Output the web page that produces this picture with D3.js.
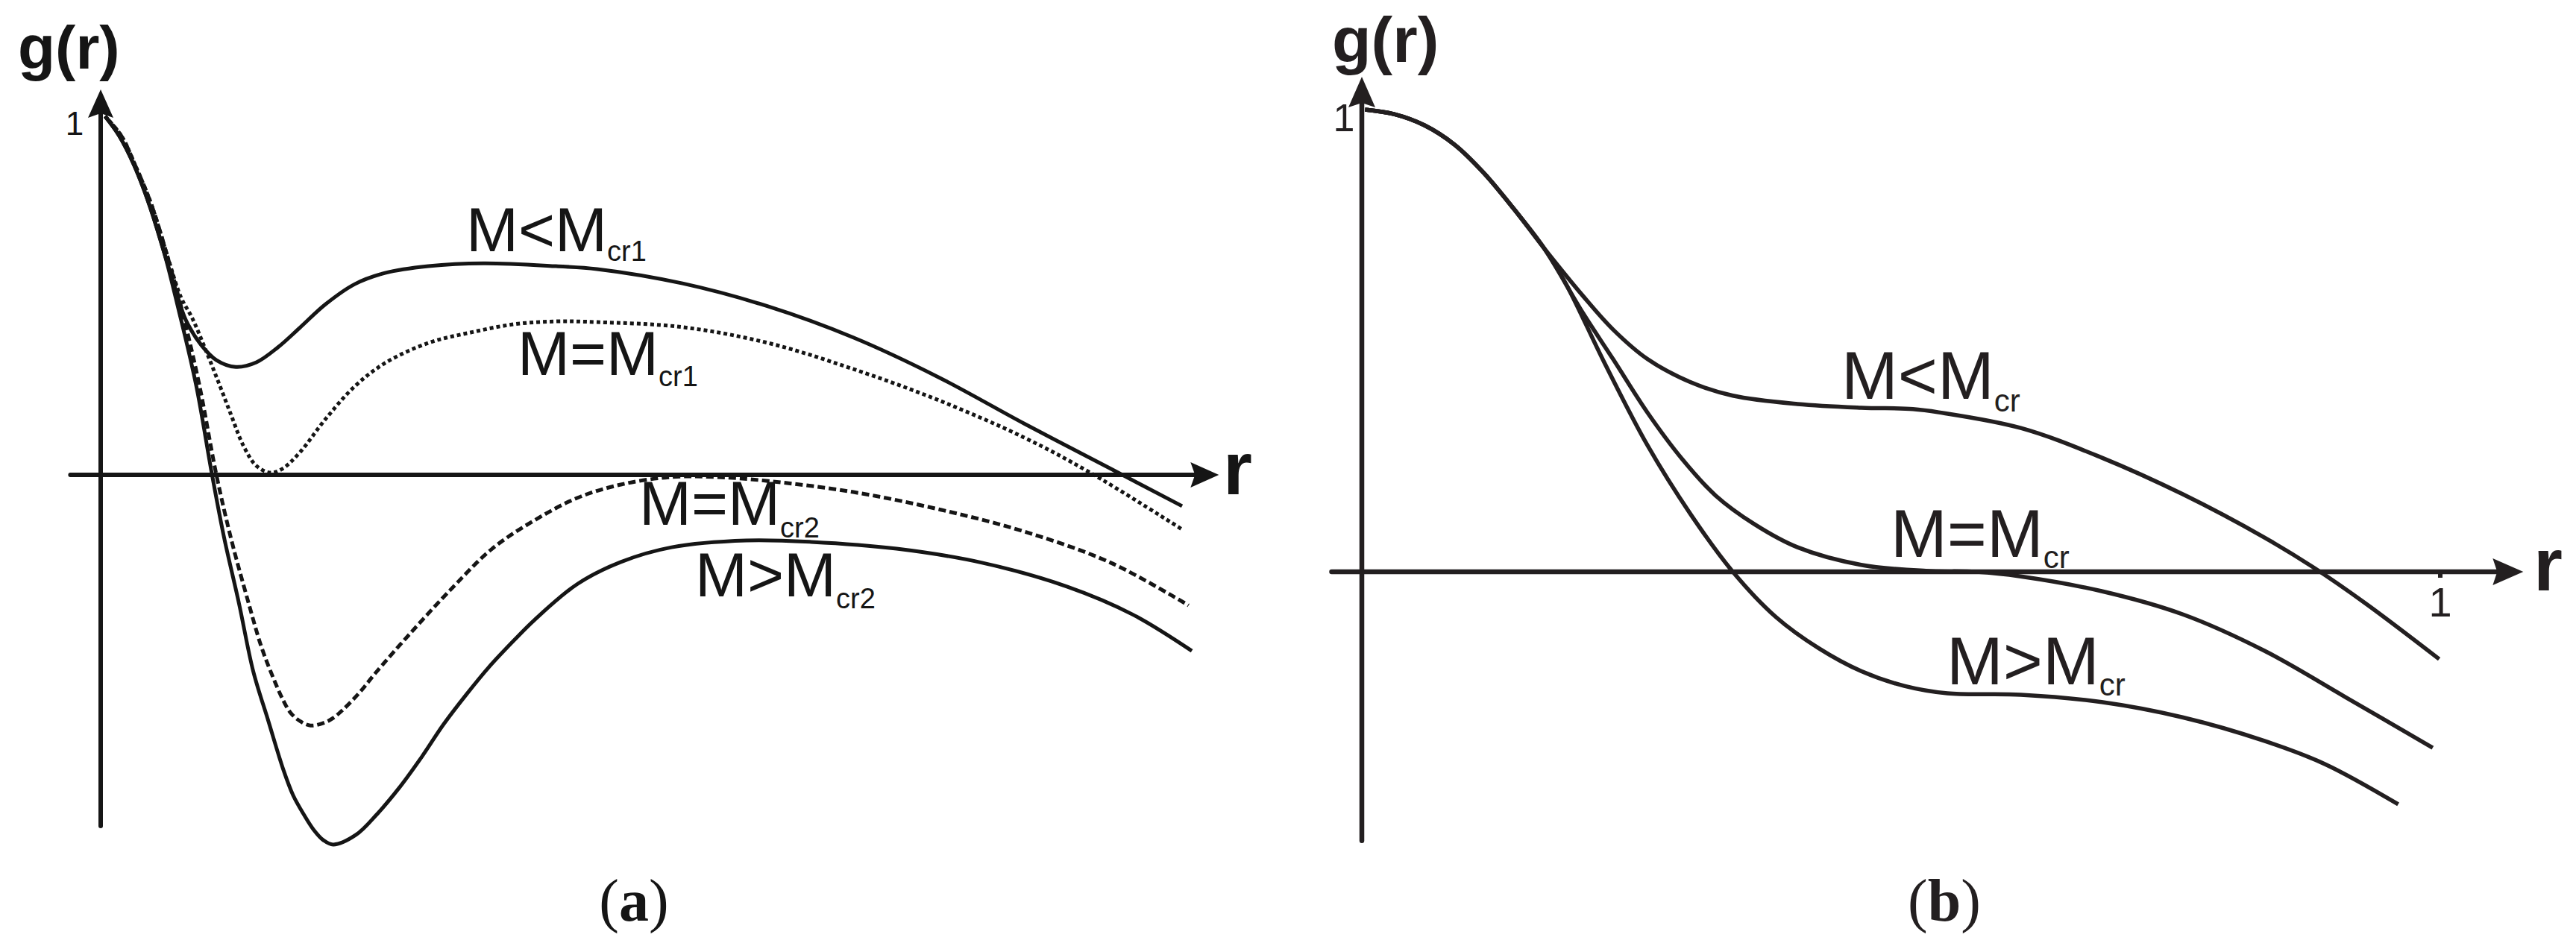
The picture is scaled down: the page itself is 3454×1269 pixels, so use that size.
<!DOCTYPE html>
<html>
<head>
<meta charset="utf-8">
<script src="https://cdn.jsdelivr.net/npm/d3@7"></script>
<style>
  html, body { margin: 0; padding: 0; background: #fff; }
  svg { display: block; }
</style>
</head>
<body>
<svg id="chart"></svg>
<script>
// ---- data: (r, g) pairs ----

// panel (a)
var aBelowCr1 = [[0.004,1.0],[0.017,0.946],[0.031,0.863],[0.045,0.753],[0.059,0.617],[0.070,0.509],[0.079,0.430],[0.093,0.362],[0.107,0.320],[0.125,0.301],[0.144,0.314],[0.164,0.356],[0.184,0.410],[0.208,0.476],[0.235,0.532],[0.263,0.563],[0.303,0.582],[0.354,0.590],[0.421,0.582],[0.459,0.574],[0.538,0.534],[0.617,0.470],[0.696,0.383],[0.775,0.272],[0.854,0.143],[0.934,0.017],[1.000,-0.087]];
var aAtCr1 = [[0.004,1.0],[0.019,0.946],[0.032,0.863],[0.047,0.753],[0.061,0.617],[0.074,0.497],[0.085,0.435],[0.097,0.349],[0.109,0.258],[0.121,0.164],[0.132,0.081],[0.144,0.025],[0.157,0.006],[0.168,0.017],[0.184,0.062],[0.208,0.156],[0.235,0.247],[0.263,0.312],[0.303,0.368],[0.342,0.397],[0.382,0.420],[0.421,0.428],[0.459,0.426],[0.538,0.412],[0.617,0.368],[0.696,0.295],[0.775,0.208],[0.854,0.104],[0.914,0.008],[1.001,-0.154]];
var aAtCr2 = [[0.004,1.0],[0.019,0.946],[0.032,0.863],[0.047,0.753],[0.061,0.617],[0.075,0.461],[0.091,0.254],[0.107,0.0],[0.121,-0.183],[0.137,-0.360],[0.148,-0.474],[0.157,-0.547],[0.169,-0.630],[0.176,-0.665],[0.185,-0.688],[0.194,-0.699],[0.206,-0.692],[0.215,-0.678],[0.224,-0.655],[0.240,-0.605],[0.254,-0.553],[0.286,-0.443],[0.323,-0.322],[0.362,-0.206],[0.401,-0.127],[0.441,-0.064],[0.481,-0.027],[0.528,-0.006],[0.569,-0.006],[0.617,-0.017],[0.696,-0.048],[0.775,-0.096],[0.854,-0.158],[0.934,-0.245],[1.006,-0.364]];
var aAboveCr2 = [[0.004,1.0],[0.017,0.946],[0.031,0.863],[0.045,0.753],[0.059,0.617],[0.072,0.461],[0.088,0.254],[0.103,0.0],[0.114,-0.173],[0.128,-0.360],[0.141,-0.547],[0.155,-0.686],[0.169,-0.823],[0.178,-0.894],[0.188,-0.948],[0.197,-0.990],[0.206,-1.019],[0.215,-1.031],[0.236,-1.004],[0.255,-0.948],[0.276,-0.873],[0.297,-0.786],[0.317,-0.696],[0.338,-0.613],[0.359,-0.536],[0.383,-0.459],[0.401,-0.405],[0.441,-0.304],[0.481,-0.243],[0.528,-0.202],[0.597,-0.183],[0.657,-0.187],[0.736,-0.206],[0.815,-0.245],[0.894,-0.312],[0.954,-0.389],[1.009,-0.491]];

// panel (b)
var bCommon = [[0.003,1.0],[0.030,0.990],[0.058,0.966],[0.086,0.924],[0.113,0.863],[0.141,0.785],[0.169,0.700]];
var bBelowCr = [[0.205,0.597],[0.233,0.524],[0.265,0.460],[0.305,0.410],[0.344,0.381],[0.404,0.363],[0.463,0.355],[0.511,0.352],[0.535,0.345],[0.611,0.311],[0.686,0.247],[0.761,0.168],[0.837,0.074],[0.882,0.010],[0.931,-0.069],[0.999,-0.189]];
var bAtCr = [[0.205,0.560],[0.233,0.460],[0.265,0.344],[0.297,0.244],[0.328,0.165],[0.364,0.103],[0.404,0.053],[0.463,0.015],[0.523,0.002],[0.570,0.0],[0.611,-0.010],[0.686,-0.042],[0.761,-0.092],[0.837,-0.171],[0.912,-0.271],[0.993,-0.381]];
var bAboveCr = [[0.189,0.624],[0.225,0.452],[0.265,0.273],[0.305,0.124],[0.344,0.0],[0.384,-0.098],[0.424,-0.166],[0.463,-0.215],[0.503,-0.247],[0.543,-0.263],[0.611,-0.266],[0.686,-0.282],[0.761,-0.315],[0.837,-0.366],[0.893,-0.416],[0.961,-0.503]];

// axis extents [min, max] in data units (max end carries the arrow)
var aAxisR = [-0.028, 1.034], aAxisG = [-0.979, 1.075];
var bAxisR = [-0.028, 1.077], bAxisG = [-0.582, 1.071];

var W = 3454, H = 1269;
var svg = d3.select("#chart").attr("width", W).attr("height", H);
svg.append("rect").attr("width", W).attr("height", H).attr("fill", "#fff");

var rA = d3.scaleLinear().domain([0, 1]).range([135, 1585]),
    gA = d3.scaleLinear().domain([0, 1]).range([637, 156]);
var rB = d3.scaleLinear().domain([0, 1]).range([1826, 3272]),
    gB = d3.scaleLinear().domain([0, 1]).range([767, 147]);

function drawAxes(g, rs, gs, rExt, gExt, col, sw, ah) {
    var y0 = gs(0), x0 = rs(0);
    var xt = rs(rExt[1]), yt = gs(gExt[1]);
    g.append("line").attr("x1", rs(rExt[0])).attr("x2", xt - 20).attr("y1", y0).attr("y2", y0)
        .attr("stroke", col).attr("stroke-width", sw).attr("stroke-linecap", "round");
    g.append("line").attr("x1", x0).attr("x2", x0).attr("y1", gs(gExt[0])).attr("y2", yt + 20)
        .attr("stroke", col).attr("stroke-width", sw).attr("stroke-linecap", "round");
    // arrow heads
    g.append("path")
        .attr("d", "M" + xt + "," + y0 + "L" + (xt - ah[0]) + "," + (y0 - ah[1]) + "L" + (xt - ah[0] + 6) + "," + y0 + "L" + (xt - ah[0]) + "," + (y0 + ah[1]) + "Z")
        .attr("fill", col);
    g.append("path")
        .attr("d", "M" + x0 + "," + yt + "L" + (x0 - ah[1]) + "," + (yt + ah[0]) + "L" + x0 + "," + (yt + ah[0] - 6) + "L" + (x0 + ah[1]) + "," + (yt + ah[0]) + "Z")
        .attr("fill", col);
}

function curve(g, rs, gs, pts, col, sw, dash) {
    var line = d3.line()
        .x(function (d) { return rs(d[0]); })
        .y(function (d) { return gs(d[1]); })
        .curve(d3.curveCatmullRom.alpha(0.5));
    var p = g.append("path").datum(pts)
        .attr("d", line)
        .attr("fill", "none")
        .attr("stroke", col)
        .attr("stroke-width", sw);
    if (dash) p.attr("stroke-dasharray", dash);
    return p;
}

function mLabel(g, x, y, main, sub, size, subSize, dy, col) {
    var t = g.append("text").attr("x", x).attr("y", y)
        .attr("font-family", "'Liberation Sans', Arial, sans-serif")
        .attr("font-size", size).attr("fill", col);
    t.append("tspan").text(main);
    t.append("tspan").attr("dy", dy).attr("font-size", subSize).text(sub);
}

// ---------- panel (a) ----------
var colA = "#151515";
var pa = svg.append("g").attr("id", "panel-a");
drawAxes(pa, rA, gA, aAxisR, aAxisG, colA, 6, [38, 17]);

curve(pa, rA, gA, aBelowCr1, colA, 5);
curve(pa, rA, gA, aAtCr1, colA, 5, "5 4");
curve(pa, rA, gA, aAtCr2, colA, 5, "10 5");
curve(pa, rA, gA, aAboveCr2, colA, 5);

pa.append("text").attr("x", 24).attr("y", 92)
    .attr("font-family", "'Liberation Sans', Arial, sans-serif").attr("font-weight", "bold")
    .attr("font-size", 82).attr("fill", colA).text("g(r)");
pa.append("text").attr("x", 1640).attr("y", 663)
    .attr("font-family", "'Liberation Sans', Arial, sans-serif").attr("font-weight", "bold")
    .attr("font-size", 100).attr("fill", colA).text("r");
pa.append("text").attr("x", 100).attr("y", 181).attr("text-anchor", "middle")
    .attr("font-family", "'Liberation Sans', Arial, sans-serif")
    .attr("font-size", 44).attr("fill", colA).text("1");

mLabel(pa, 625, 337, "M<M", "cr1", 84, 38, 13, colA);
mLabel(pa, 694, 503, "M=M", "cr1", 84, 38, 15, colA);
mLabel(pa, 857, 704, "M=M", "cr2", 84, 38, 17, colA);
mLabel(pa, 932, 800, "M>M", "cr2", 84, 38, 16, colA);

var capA = pa.append("text").attr("x", 850).attr("y", 1235).attr("text-anchor", "middle")
    .attr("font-family", "'Liberation Serif', 'Times New Roman', serif")
    .attr("font-size", 80).attr("fill", colA);
capA.append("tspan").text("(");
capA.append("tspan").attr("font-weight", "bold").text("a");
capA.append("tspan").text(")");

// ---------- panel (b) ----------
var colB = "#231f20";
var pb = svg.append("g").attr("id", "panel-b");
drawAxes(pb, rB, gB, bAxisR, bAxisG, colB, 6.5, [41, 18]);

// tick at r = 1
pb.append("line").attr("x1", rB(1)).attr("x2", rB(1)).attr("y1", gB(0)).attr("y2", gB(0) + 8)
    .attr("stroke", colB).attr("stroke-width", 6);

curve(pb, rB, gB, bCommon.concat(bBelowCr), colB, 5.5);
curve(pb, rB, gB, bCommon.concat(bAtCr), colB, 5.5);
curve(pb, rB, gB, bCommon.concat(bAboveCr), colB, 5.5);

pb.append("text").attr("x", 1786).attr("y", 83)
    .attr("font-family", "'Liberation Sans', Arial, sans-serif").attr("font-weight", "bold")
    .attr("font-size", 86).attr("fill", colB).text("g(r)");
pb.append("text").attr("x", 3397).attr("y", 792)
    .attr("font-family", "'Liberation Sans', Arial, sans-serif").attr("font-weight", "bold")
    .attr("font-size", 100).attr("fill", colB).text("r");
pb.append("text").attr("x", 1802).attr("y", 176).attr("text-anchor", "middle")
    .attr("font-family", "'Liberation Sans', Arial, sans-serif")
    .attr("font-size", 52).attr("fill", colB).text("1");
pb.append("text").attr("x", rB(1)).attr("y", 827).attr("text-anchor", "middle")
    .attr("font-family", "'Liberation Sans', Arial, sans-serif")
    .attr("font-size", 56).attr("fill", colB).text("1");

mLabel(pb, 2469, 535, "M<M", "cr", 91, 42, 17, colB);
mLabel(pb, 2535, 747, "M=M", "cr", 91, 42, 15, colB);
mLabel(pb, 2610, 918, "M>M", "cr", 91, 42, 15, colB);

var capB = pb.append("text").attr("x", 2607).attr("y", 1235).attr("text-anchor", "middle")
    .attr("font-family", "'Liberation Serif', 'Times New Roman', serif")
    .attr("font-size", 80).attr("fill", colB);
capB.append("tspan").text("(");
capB.append("tspan").attr("font-weight", "bold").text("b");
capB.append("tspan").text(")");
</script>
</body>
</html>
